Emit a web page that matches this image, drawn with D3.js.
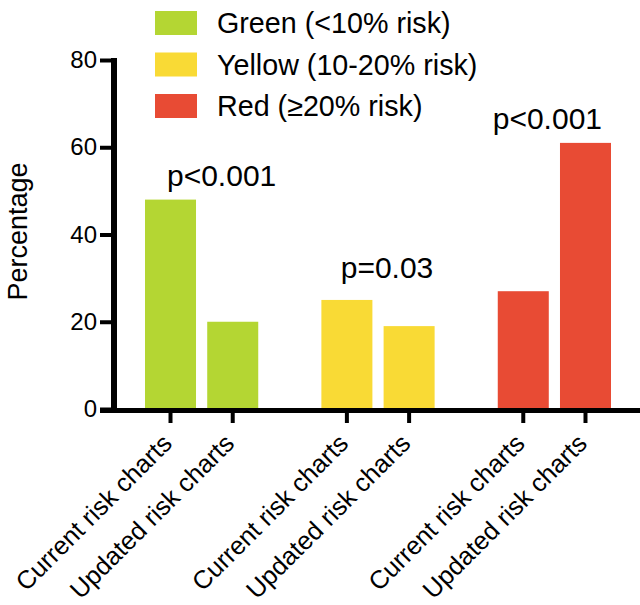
<!DOCTYPE html>
<html>
<head>
<meta charset="utf-8">
<script src="https://cdn.jsdelivr.net/npm/d3@7"></script>
<style>
  body { margin: 0; background: #fff; }
  text { font-family: "Liberation Sans", Arial, Helvetica, sans-serif; fill: #000; }
</style>
</head>
<body>
<div id="chart"></div>
<script>
const groups = ['Green (<10% risk)', 'Yellow (10-20% risk)', 'Red (\u226520% risk)'];
const groupKeys = ['green', 'yellow', 'red'];
const charts = ['Current risk charts', 'Updated risk charts'];
const current = [48, 25, 27];
const updated = [20, 19, 61];
const pValues = ['p<0.001', 'p=0.03', 'p<0.001'];
const yTicks = [0, 20, 40, 60, 80];

const colors = ['#b4d633', '#f9da35', '#e84b34'];

const W = 640, H = 605;
const svg = d3.select('#chart').append('svg').attr('width', W).attr('height', H);

const rows = groupKeys.map((k, i) => ({ key: k, vals: [current[i], updated[i]], p: pValues[i], color: colors[i] }));

const y = d3.scaleLinear().domain([0, 80]).range([409, 60]);
const x0 = d3.scaleBand().domain(groupKeys).range([145, 611]).paddingInner(0.358).paddingOuter(0);
const x1 = d3.scaleBand().domain(charts).range([0, x0.bandwidth()]).paddingInner(0.18);

// bars
const gg = svg.selectAll('g.grp').data(rows).enter().append('g')
  .attr('class', 'grp')
  .attr('transform', d => `translate(${x0(d.key)},0)`);

gg.selectAll('rect').data(d => d.vals.map((v, j) => ({ v, chart: charts[j], color: d.color })))
  .enter().append('rect')
  .attr('x', d => x1(d.chart))
  .attr('width', x1.bandwidth())
  .attr('y', d => y(d.v))
  .attr('height', d => y(0) - y(d.v))
  .attr('fill', d => d.color);

// p-value labels (small nudges to sit like the original)
const pNudge = [20, 9, -7];
const pGap = [14, 22, 14];
svg.selectAll('text.pval').data(rows).enter().append('text')
  .attr('class', 'pval')
  .attr('x', (d, i) => x0(d.key) + x0.bandwidth() / 2 + pNudge[i])
  .attr('y', (d, i) => y(d3.max(d.vals)) - pGap[i])
  .attr('text-anchor', 'middle')
  .style('font-size', '30px')
  .text(d => d.p);

// y axis
const yAxis = svg.append('g').attr('transform', 'translate(114,0)')
  .call(d3.axisLeft(y).tickValues(yTicks).tickSize(14).tickPadding(3));
yAxis.select('.domain').attr('d', `M0,${y(80) - 2}V${y(0) + 2}`).attr('stroke', '#000').attr('stroke-width', 6);
yAxis.selectAll('.tick line').attr('stroke', '#000').attr('stroke-width', 4);
yAxis.selectAll('.tick text').style('font-size', '24px').attr('font-family', null);

// x axis
const ticksX = [];
rows.forEach(d => charts.forEach(c => ticksX.push({ x: x0(d.key) + x1(c) + x1.bandwidth() / 2, label: c })));

const xg = svg.append('g');
xg.append('line').attr('x1', 100).attr('x2', W).attr('y1', y(0) + 1.5).attr('y2', y(0) + 1.5)
  .attr('stroke', '#000').attr('stroke-width', 5);
xg.selectAll('line.xt').data(ticksX).enter().append('line')
  .attr('class', 'xt')
  .attr('x1', d => d.x).attr('x2', d => d.x)
  .attr('y1', y(0)).attr('y2', y(0) + 14)
  .attr('stroke', '#000').attr('stroke-width', 4);
xg.selectAll('text.xl').data(ticksX).enter().append('text')
  .attr('class', 'xl')
  .attr('transform', d => `translate(${d.x + 3},${y(0) + 36}) rotate(-45)`)
  .attr('text-anchor', 'end')
  .style('font-size', '25.5px')
  .text(d => d.label);

// y label
svg.append('text')
  .attr('transform', `translate(27,${(y(0) + y(80)) / 2 - 3}) rotate(-90)`)
  .attr('text-anchor', 'middle')
  .style('font-size', '27px')
  .text('Percentage');

// legend
const leg = svg.selectAll('g.leg').data(rows).enter().append('g')
  .attr('class', 'leg')
  .attr('transform', (d, i) => `translate(155,${11 + i * 41.5})`);
leg.append('rect').attr('width', 42).attr('height', 24).attr('fill', d => d.color);
leg.append('text').attr('x', 62).attr('y', 22).style('font-size', '28.7px')
  .text((d, i) => groups[i]);
</script>
</body>
</html>
